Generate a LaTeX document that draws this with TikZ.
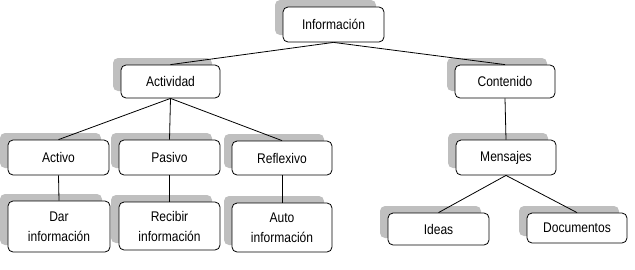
\documentclass[tikz,border=0pt]{standalone}
\usepackage{fontspec}
\setmainfont{Liberation Sans}[FakeStretch=0.86]
\usetikzlibrary{shadows}
\begin{document}
\begin{tikzpicture}[x=1bp,y=-1bp,
  box/.style={draw=black, line width=0.8bp, fill=white, rounded corners=5bp,
    inner sep=0pt, align=center,
    font=\fontsize{14bp}{20bp}\selectfont,
    general shadow={fill=black!25, shadow xshift=-8bp, shadow yshift=7bp}},
  link/.style={draw=black, line width=0.8bp}]
\useasboundingbox (0,0) rectangle (635,269);
\node[box, minimum width=101bp, minimum height=35bp] (info) at (333.5,24.5) {Información};
\node[box, minimum width=99bp, minimum height=33bp] (act) at (170.5,81.5) {Actividad};
\node[box, minimum width=100bp, minimum height=33bp] (cont) at (505,81.5) {Contenido};
\node[box, minimum width=101bp, minimum height=35bp] (activo) at (58.5,157.5) {Activo};
\node[box, minimum width=101bp, minimum height=35bp] (pasivo) at (169.5,157.5) {Pasivo};
\node[box, minimum width=100bp, minimum height=34bp] (refl) at (282,158) {Reflexivo};
\node[box, minimum width=102bp, minimum height=51bp] (dar) at (59,226.5) {Dar\\información};
\node[box, minimum width=101bp, minimum height=48bp] (recibir) at (169.5,226) {Recibir\\información};
\node[box, minimum width=100bp, minimum height=49bp] (auto) at (282,227.5) {Auto\\información};
\node[box, minimum width=100bp, minimum height=35bp] (mens) at (506,157.5) {Mensajes};
\node[box, minimum width=101bp, minimum height=32bp] (ideas) at (438.5,229) {Ideas};
\node[box, minimum width=100bp, minimum height=30bp] (docs) at (577,228) {Documentos};
\draw[link] (info.south) -- (act.north);
\draw[link] (info.south) -- (cont.north);
\draw[link] (act.south) -- (activo.north);
\draw[link] (act.south) -- (pasivo.north);
\draw[link] (act.south) -- (refl.north);
\draw[link] (activo.south) -- (dar.north);
\draw[link] (pasivo.south) -- (recibir.north);
\draw[link] (refl.south) -- (auto.north);
\draw[link] (cont.south) -- (mens.north);
\draw[link] (mens.south) -- (ideas.north);
\draw[link] (mens.south) -- (docs.north);
\end{tikzpicture}
\end{document}
